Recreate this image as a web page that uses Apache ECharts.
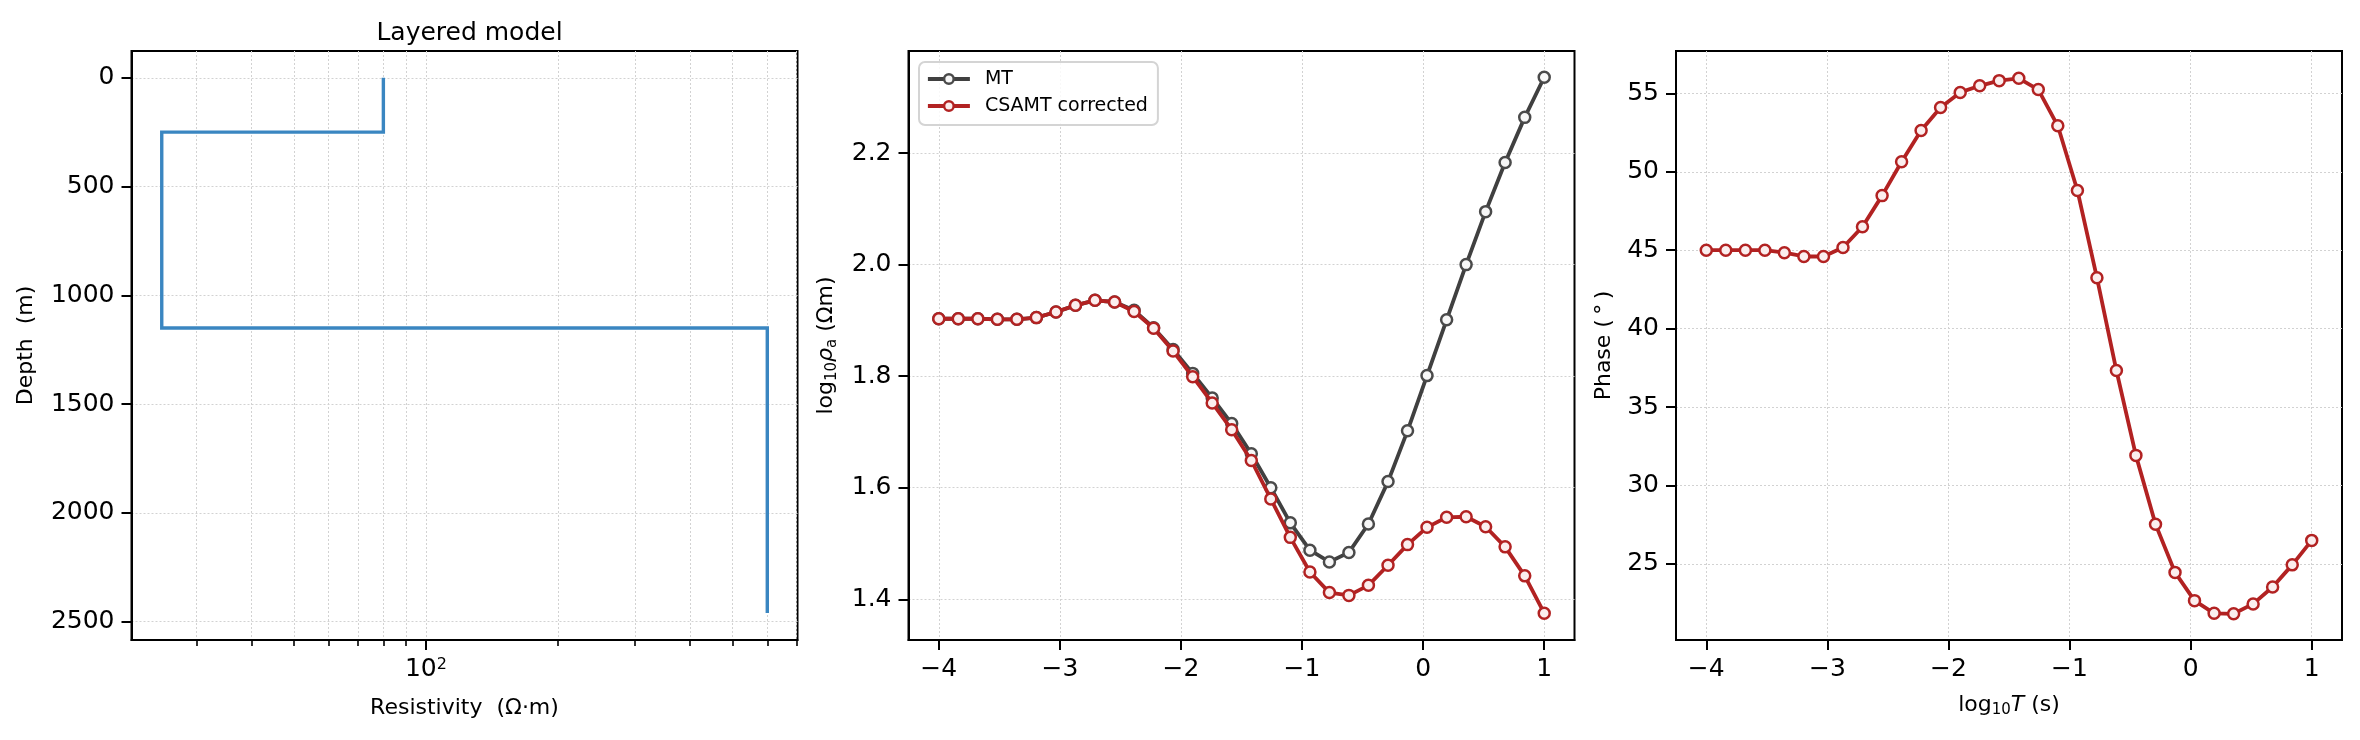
<!DOCTYPE html>
<html>
<head>
<meta charset="utf-8">
<title>Layered model, MT / CSAMT</title>
<style>
  html, body { margin: 0; padding: 0; background: #fff; }
  #chart { width: 2360px; height: 740px; }
</style>
</head>
<body>
<div id="chart"></div>
<script src="https://cdn.jsdelivr.net/npm/echarts@6/dist/echarts.min.js"></script>
<script>
// layered model (resistivity in ohm-m, layer tops in m)
var layerRho = [80, 25, 600];
var layerTop = [0, 250, 1150];
var modelBottom = 2460;

// sounding curves, log10 of period
var logT = [-4.000, -3.839, -3.677, -3.516, -3.355, -3.194, -3.032, -2.871,
  -2.710, -2.548, -2.387, -2.226, -2.065, -1.903, -1.742, -1.581,
  -1.419, -1.258, -1.097, -0.935, -0.774, -0.613, -0.452, -0.290,
  -0.129, 0.032, 0.194, 0.355, 0.516, 0.677, 0.839, 1.000];
var mtRho = [1.903, 1.903, 1.903, 1.902, 1.902, 1.905, 1.915, 1.927,
  1.936, 1.933, 1.918, 1.887, 1.848, 1.805, 1.761, 1.715,
  1.661, 1.600, 1.537, 1.488, 1.467, 1.484, 1.535, 1.611,
  1.702, 1.801, 1.901, 2.000, 2.095, 2.183, 2.264, 2.336];
var csRho = [1.903, 1.903, 1.903, 1.902, 1.902, 1.905, 1.915, 1.927,
  1.936, 1.933, 1.916, 1.886, 1.845, 1.799, 1.752, 1.704,
  1.649, 1.580, 1.511, 1.449, 1.412, 1.407, 1.425, 1.461,
  1.498, 1.529, 1.547, 1.548, 1.530, 1.494, 1.442, 1.375];
var csPhase = [45.0, 45.0, 45.0, 45.0, 44.84, 44.6, 44.6, 45.17,
  46.5, 48.48, 50.64, 52.63, 54.1, 55.06, 55.48, 55.81,
  55.96, 55.24, 52.93, 48.81, 43.25, 37.33, 31.92, 27.53,
  24.46, 22.66, 21.85, 21.82, 22.45, 23.53, 24.94, 26.5];

// tick values
var depthTicks = [0, 500, 1000, 1500, 2000, 2500];
var rhoMajorTicks = [100];
var rhoMinorTicks = [30, 40, 50, 60, 70, 80, 90, 200, 300, 400, 500, 600, 700];
var logTTicks = [-4, -3, -2, -1, 0, 1];
var rhoaTicks = [1.4, 1.6, 1.8, 2.0, 2.2];
var phaseTicks = [25, 30, 35, 40, 45, 50, 55];

var FONT = 'DejaVu Sans';
var RED = '#b22222';
var GRAY = '#404040';
var gridLine = { color: '#d2d2d2', width: 1, type: [2, 2] };

var myChart = echarts.init(document.getElementById('chart'));

function minus(v) {
  return String(v).replace('-', '\u2212');
}

function makeAxis(gridIndex, min, max, ticks, fmt) {
  return {
    type: 'value',
    gridIndex: gridIndex,
    min: min,
    max: max,
    axisLine: { show: true, onZero: false, lineStyle: { color: '#000', width: 2 } },
    axisTick: { show: true, inside: false, length: 10, customValues: ticks,
      lineStyle: { color: '#000', width: 2 } },
    axisLabel: { customValues: ticks, formatter: fmt, margin: 17, color: '#000',
      fontSize: 25, fontFamily: FONT },
    splitLine: { show: true, lineStyle: gridLine },
    nameLocation: 'middle',
    nameTextStyle: { fontSize: 22, color: '#000', fontFamily: FONT }
  };
}

// step profile of the layered model
var modelPts = [];
for (var i = 0; i < layerRho.length; i++) {
  var bottom = i + 1 < layerTop.length ? layerTop[i + 1] : modelBottom;
  modelPts.push([Math.log10(layerRho[i]), layerTop[i]]);
  modelPts.push([Math.log10(layerRho[i]), bottom]);
}

function pairs(xs, ys) {
  var out = [];
  for (var i = 0; i < xs.length; i++) out.push([xs[i], ys[i]]);
  return out;
}

var logMin = 1.329, logMax = 2.847;

var x0 = makeAxis(0, logMin, logMax, rhoMajorTicks.map(Math.log10), function(v) {
  return '10{sup|' + Math.round(v) + '}';
});
x0.axisLabel.rich = { sup: { fontSize: 16, lineHeight: 13, verticalAlign: 'top', fontFamily: FONT, color: '#000' } };
x0.name = 'Resistivity  (\u03a9\u00b7m)';
x0.nameGap = 57;

// minor log ticks drawn on an overlay axis
var x0minor = {
  type: 'value', gridIndex: 3, min: logMin, max: logMax,
  axisLine: { show: false },
  axisTick: { show: true, inside: false, length: 6, customValues: rhoMinorTicks.map(Math.log10),
    lineStyle: { color: '#000', width: 1.6 } },
  axisLabel: { show: false },
  splitLine: { show: true, lineStyle: gridLine }
};

var y0 = makeAxis(0, -123, 2584, depthTicks, function(v) { return String(v); });
y0.inverse = true;
y0.name = 'Depth  (m)';
y0.nameGap = 94;

var x1 = makeAxis(1, -4.25, 1.25, logTTicks, minus);
var y1 = makeAxis(1, 1.327, 2.383, rhoaTicks, function(v) { return v.toFixed(1); });
y1.name = 'log{sub|10}{it|\u03c1}{sub|a} (\u03a9m)';
y1.nameGap = 69;
y1.nameTextStyle.lineHeight = 26;
y1.nameTextStyle.rich = {
  sub: { fontSize: 15, lineHeight: 18, verticalAlign: 'bottom', fontFamily: FONT, color: '#000' },
  it: { fontSize: 22, fontStyle: 'italic', fontFamily: FONT, color: '#000' }
};

var x2 = makeAxis(2, -4.25, 1.25, logTTicks, minus);
x2.name = 'log{sub|10}{it|T} (s)';
x2.nameGap = 52;
x2.nameTextStyle.lineHeight = 26;
x2.nameTextStyle.rich = y1.nameTextStyle.rich;
var y2 = makeAxis(2, 20.15, 57.7, phaseTicks, function(v) { return String(v); });
y2.name = 'Phase (\u2009\u00b0\u2009)';
y2.nameGap = 61;

var gridBase = { top: 51, height: 589, width: 666, show: true, borderColor: '#000', borderWidth: 2, backgroundColor: 'transparent' };

var option = {
  animation: false,
  backgroundColor: '#fff',
  textStyle: { fontFamily: FONT },
  title: {
    text: 'Layered model',
    left: 464.5,
    top: 14,
    textAlign: 'center',
    textStyle: { fontSize: 25, fontWeight: 'normal', color: '#000', fontFamily: FONT, lineHeight: 28 }
  },
  legend: {
    data: ['MT', 'CSAMT corrected'],
    orient: 'vertical',
    left: 919,
    top: 62,
    padding: [7, 10, 9, 7],
    itemWidth: 42,
    itemHeight: 12,
    itemGap: 7,
    lineStyle: { width: 3.8 },
    itemStyle: { borderWidth: 2.5 },
    borderColor: '#d4d4d4',
    borderWidth: 2,
    borderRadius: 6,
    backgroundColor: 'rgba(255,255,255,0.85)',
    textStyle: { fontSize: 19, color: '#000', fontFamily: FONT, lineHeight: 20, padding: [0, 0, 0, 10] }
  },
  grid: [
    Object.assign({ left: 131.5 }, gridBase),
    Object.assign({ left: 908.5 }, gridBase),
    Object.assign({ left: 1676 }, gridBase),
    { left: 131.5, top: 51, height: 589, width: 666, show: false }
  ],
  xAxis: [x0, x1, x2, x0minor],
  yAxis: [y0, y1, y2, { type: 'value', gridIndex: 3, show: false, min: 0, max: 1 }],
  series: [
    {
      name: 'Model',
      type: 'line',
      xAxisIndex: 0, yAxisIndex: 0,
      data: modelPts,
      showSymbol: false,
      lineStyle: { color: '#3a86c1', width: 3.4, join: 'miter', cap: 'butt' },
      z: 5
    },
    {
      name: 'MT',
      type: 'line',
      xAxisIndex: 1, yAxisIndex: 1,
      data: pairs(logT, mtRho),
      symbol: 'circle',
      symbolSize: 11,
      lineStyle: { color: GRAY, width: 3.8 },
      itemStyle: { color: '#f7f7f7', borderColor: '#4a4a4a', borderWidth: 2.5 },
      z: 5
    },
    {
      name: 'CSAMT corrected',
      type: 'line',
      xAxisIndex: 1, yAxisIndex: 1,
      data: pairs(logT, csRho),
      symbol: 'circle',
      symbolSize: 11,
      lineStyle: { color: RED, width: 3.8 },
      itemStyle: { color: '#fbeeee', borderColor: RED, borderWidth: 2.5 },
      z: 6
    },
    {
      name: 'Phase',
      type: 'line',
      xAxisIndex: 2, yAxisIndex: 2,
      data: pairs(logT, csPhase),
      symbol: 'circle',
      symbolSize: 11,
      lineStyle: { color: RED, width: 3.8 },
      itemStyle: { color: '#fbeeee', borderColor: RED, borderWidth: 2.5 },
      z: 6
    }
  ]
};

myChart.setOption(option);
</script>
</body>
</html>
